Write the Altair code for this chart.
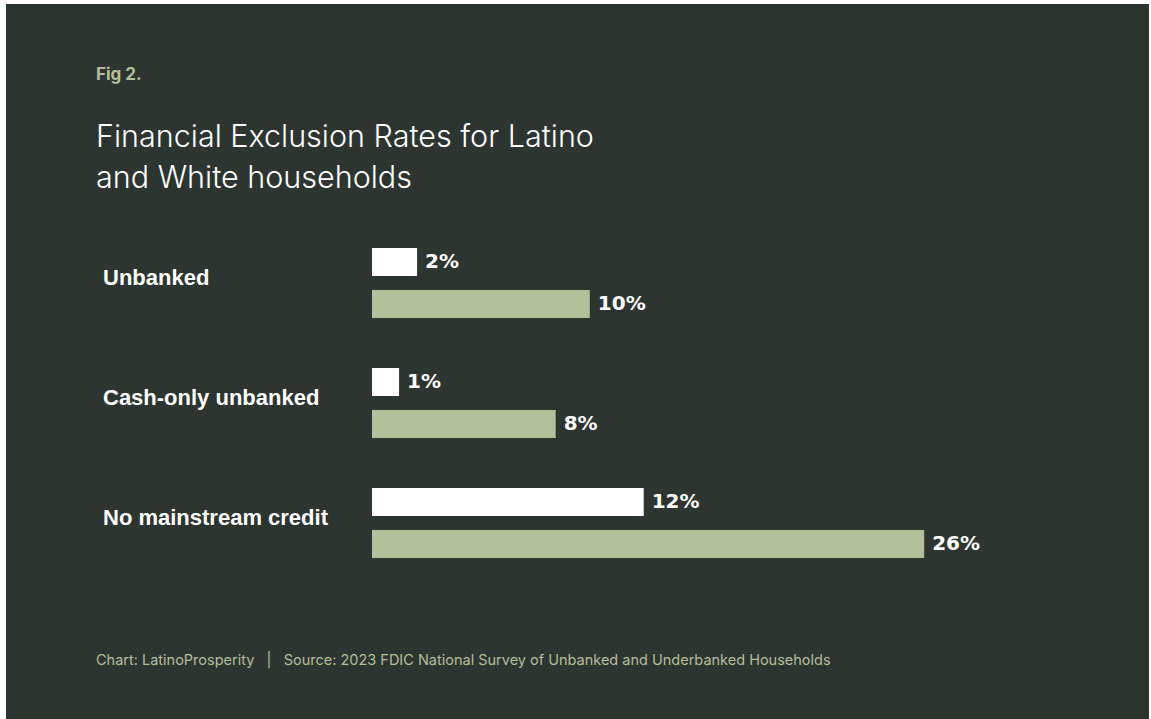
import altair as alt
import pandas as pd

categories = ["Unbanked", "Cash-only unbanked", "No mainstream credit"]
groups = ["White", "Latino"]
white_values = [2.05, 1.23, 12.35]
latino_values = [9.9, 8.35, 25.1]
white_labels = ["2%", "1%", "12%"]
latino_labels = ["10%", "8%", "26%"]

BG = "#2c3530"
SAGE = "#b4bf9b"
NB = "\u00a0"

rows = []
for c, v, l in zip(categories, white_values, white_labels):
    rows.append({"category": c, "group": "White", "value": v, "label": l})
for c, v, l in zip(categories, latino_values, latino_labels):
    rows.append({"category": c, "group": "Latino", "value": v, "label": l})
df = pd.DataFrame(rows)

y_enc = alt.Y("category:N", sort=categories, axis=None,
              scale=alt.Scale(paddingInner=50 / 120, paddingOuter=25 / 120))
yoff_enc = alt.YOffset("group:N", sort=groups,
                       scale=alt.Scale(paddingInner=1 / 3, paddingOuter=0))
x_enc = alt.X("value:Q", axis=None, scale=alt.Scale(domain=[0, 30]))

panel = alt.Chart(pd.DataFrame({"p": [0]})).mark_rect(color=BG).encode(
    x=alt.value(-366), x2=alt.value(777), y=alt.value(-219), y2=alt.value(500)
)

bars = alt.Chart(df).mark_bar(cornerRadius=0).encode(
    x=x_enc,
    y=y_enc,
    yOffset=yoff_enc,
    color=alt.Color("group:N", legend=None,
                    scale=alt.Scale(domain=groups, range=["#ffffff", SAGE])),
)

values = alt.Chart(df).mark_text(
    align="left", baseline="middle", dx=8, font="DejaVu Sans",
    fontWeight="bold", fontSize=20, color="#ffffff"
).encode(x=x_enc, y=y_enc, yOffset=yoff_enc, text="label:N")

cat_df = pd.DataFrame({"category": categories})
cat_labels = alt.Chart(cat_df).mark_text(
    align="left", baseline="middle", dy=-5, font="Liberation Sans",
    fontWeight="bold", fontSize=22, color="#ffffff"
).encode(x=alt.value(-269), y=y_enc, text="category:N")

def note(text, x, y, size, color, weight="normal", font="Inter"):
    return alt.Chart(pd.DataFrame({"t": [text]})).mark_text(
        align="left", baseline="alphabetic", font=font, fontSize=size,
        fontWeight=weight, color=color
    ).encode(x=alt.value(x), y=alt.value(y), text="t:N")

fig = note("Fig 2.", -276, -143, 17, SAGE, weight="bold")
t1 = note("Financial Exclusion Rates for Latino", -276, -76, 30.5, "#ffffff", weight=300)
t2 = note("and White households", -276, -35, 30.5, "#ffffff", weight=300)
foot = note("Chart: LatinoProsperity" + NB * 3 + "|" + NB * 3
            + "Source: 2023 FDIC National Survey of Unbanked and Underbanked Households",
            -276, 442, 14.5, SAGE)

chart = alt.layer(panel, bars, values, cat_labels, fig, t1, t2, foot).properties(
    width=660, height=360,
    padding={"left": 372, "top": 223, "right": 119, "bottom": 136},
    autosize=alt.AutoSizeParams(type="none"),
    background="#ffffff",
).configure_view(stroke=None)

chart.save("out.html", embed_options={"renderer": "svg", "actions": False})
